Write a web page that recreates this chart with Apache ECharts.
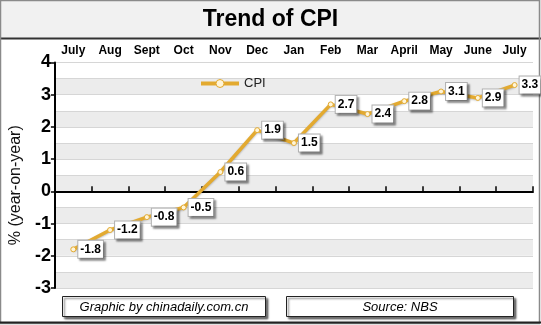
<!DOCTYPE html>
<html>
<head>
<meta charset="utf-8">
<script src="https://cdn.jsdelivr.net/npm/echarts@6/dist/echarts.min.js"></script>
<style>
html,body{margin:0;padding:0;background:#fff;}
#chart{width:541px;height:325px;}
</style>
</head>
<body>
<div id="chart"></div>
<script>
var categories = ['July','Aug','Sept','Oct','Nov','Dec','Jan','Feb','Mar','April','May','June','July'];
var cpiValues = [-1.8,-1.2,-0.8,-0.5,0.6,1.9,1.5,2.7,2.4,2.8,3.1,2.9,3.3];
var seriesName = 'CPI';
var titleText = 'Trend of CPI';
var yAxisName = '% (year-on-year)';
var yMin = -3, yMax = 4;
var creditText = 'Graphic by chinadaily.com.cn';
var sourceText = 'Source: NBS';

var FONT = '"Liberation Sans", Arial, sans-serif';
var GOLD = '#e3aa30';

var chart = echarts.init(document.getElementById('chart'), null, {renderer:'canvas'});
var option = {
  animation: false,
  backgroundColor: '#fff',
  textStyle: {fontFamily: FONT},
  graphic: [
    {type:'rect', z:-10, shape:{x:0, y:0, width:541, height:39}, style:{fill:'#f1f1f1', stroke:null}},
    {type:'line', shape:{x1:0, y1:38.5, x2:541, y2:38.5}, style:{stroke:'#333', lineWidth:2}},
    {type:'rect', shape:{x:0.5, y:0.5, width:539, height:323}, style:{fill:null, stroke:'#8a8a8a', lineWidth:1.5}},
    {type:'line', shape:{x1:0, y1:322.5, x2:541, y2:322.5}, style:{stroke:'#222', lineWidth:2}},
    {type:'text', left:'center', top:8, style:{text:titleText, font:'bold 23px '+FONT, fill:'#000'}},
    {type:'rect', shape:{x:62.5, y:296.5, width:203, height:20}, style:{fill:'#fff', stroke:'#222', lineWidth:1, shadowColor:'rgba(0,0,0,0.55)', shadowBlur:2, shadowOffsetX:2, shadowOffsetY:2}},
    {type:'text', x:164, y:307, style:{text:creditText, font:'italic 13px '+FONT, fill:'#000', align:'center', verticalAlign:'middle'}},
    {type:'rect', shape:{x:286.5, y:296.5, width:227, height:20}, style:{fill:'#fff', stroke:'#222', lineWidth:1, shadowColor:'rgba(0,0,0,0.55)', shadowBlur:2, shadowOffsetX:2, shadowOffsetY:2}},
    {type:'text', x:400, y:307, style:{text:sourceText, font:'italic 13px '+FONT, fill:'#000', align:'center', verticalAlign:'middle'}}
  ],
  legend: {
    data:[{name:seriesName, itemStyle:{color:'#fff5d8', borderColor:GOLD, borderWidth:1}, lineStyle:{width:4, color:GOLD}}],
    left:194, top:72, itemWidth:38, itemHeight:10, itemGap:5,
    textStyle:{fontSize:13, color:'#222', fontFamily:FONT}
  },
  grid: {left:49, right:8, top:62.5, bottom:37, containLabel:false},
  xAxis: [
    {type:'category', data:categories, position:'top', boundaryGap:true,
     axisLine:{show:false}, axisTick:{show:false}, splitLine:{show:false},
     axisLabel:{fontSize:12, fontWeight:'bold', color:'#000', margin:6, interval:0, fontFamily:FONT}},
    {type:'category', data:categories, position:'bottom', boundaryGap:true,
     axisLine:{show:true, onZero:true, lineStyle:{color:'#000', width:2}},
     axisTick:{show:true, inside:true, length:5, interval:0, lineStyle:{color:'#000', width:1.5}},
     axisLabel:{show:false}, splitLine:{show:false}}
  ],
  yAxis: [
    {type:'value', min:yMin, max:yMax, interval:1, position:'left',
     name:yAxisName, nameLocation:'middle', nameGap:30, nameRotate:90,
     nameTextStyle:{fontSize:16, color:'#111', fontFamily:FONT, padding:[0,0,0,-20]},
     axisLine:{show:true, lineStyle:{color:'#000', width:2}},
     axisTick:{show:true, length:4, lineStyle:{color:'#000', width:1.5}},
     axisLabel:{fontSize:18, fontWeight:'bold', color:'#000', margin:4, fontFamily:FONT},
     splitLine:{show:false}, z:5},
    {type:'value', min:yMin, max:yMax, interval:0.5, position:'left',
     axisLine:{show:false}, axisTick:{show:false}, axisLabel:{show:false},
     splitLine:{show:true, lineStyle:{color:'#d6d6d6', width:1}},
     splitArea:{show:true, areaStyle:{color:['#ececec','#ffffff']}}}
  ],
  series: [{
    name:seriesName, type:'line', data:cpiValues, xAxisIndex:0, yAxisIndex:0,
    symbol:'circle', symbolSize:5, z:10,
    lineStyle:{color:GOLD, width:3.5, shadowColor:'rgba(0,0,0,0.25)', shadowBlur:2, shadowOffsetY:1},
    itemStyle:{color:'#fff5d8', borderColor:GOLD, borderWidth:1},
    label:{show:true, position:'right', distance:2, color:'#000', fontSize:12, fontWeight:'bold', fontFamily:FONT,
      backgroundColor:'#fff', borderColor:'#b0b0b0', borderWidth:1, padding:[3,2,2,2],
      shadowColor:'rgba(0,0,0,0.35)', shadowBlur:2, shadowOffsetX:2, shadowOffsetY:2}
  }]
};
chart.setOption(option);
</script>
</body>
</html>
